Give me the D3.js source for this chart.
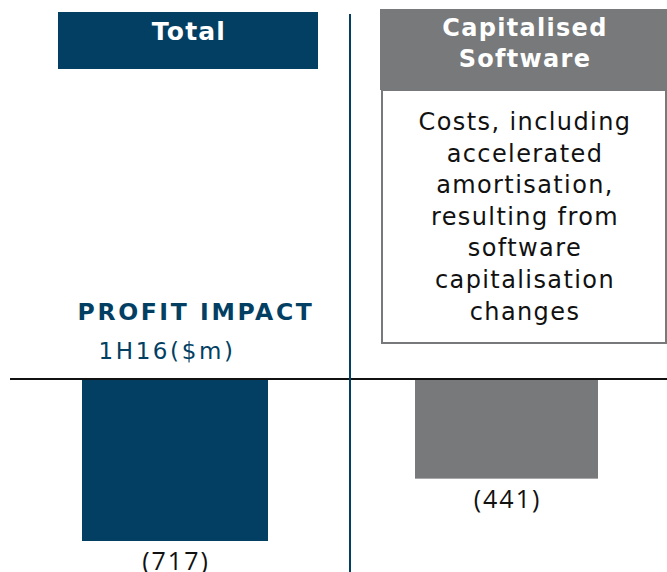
<!DOCTYPE html>
<html><head><meta charset="utf-8">
<script src="https://cdn.jsdelivr.net/npm/d3@7"></script>
<style>body{margin:0;background:#fff}svg{display:block}</style>
</head><body>
<script>
const categories = ["Total", "Capitalised Software"];
const values = [-717, -441];
const valueLabels = ["(717)", "(441)"];
const headerLines = [["Total"], ["Capitalised", "Software"]];
const descriptionLines = ["Costs, including", "accelerated", "amortisation,", "resulting from", "software", "capitalisation", "changes"];
const titleText = "PROFIT IMPACT";
const unitText = "1H16($m)";

const W = 667, H = 572;
const navy = "#023F63", grey = "#78797B";
const svg = d3.select("body").append("svg").attr("width", W).attr("height", H);

const barX = {"Total": [82, 268], "Capitalised Software": [415, 598]};
const y = d3.scaleLinear().domain([0, -717]).range([379, 541]);

// Header boxes
svg.append("rect").attr("x", 58).attr("y", 12).attr("width", 260).attr("height", 57).attr("fill", navy);
svg.append("text").attr("x", 189).attr("y", 40).attr("text-anchor", "middle")
  .attr("font-family", "DejaVu Sans").attr("font-weight", "bold").attr("font-size", 25)
  .attr("letter-spacing", 1.2).attr("fill", "#fff").text(headerLines[0][0]);

svg.append("rect").attr("x", 380).attr("y", 9).attr("width", 287).attr("height", 81).attr("fill", grey);
headerLines[1].forEach((l, i) => {
  svg.append("text").attr("x", 525).attr("y", 36 + i * 31).attr("text-anchor", "middle")
    .attr("font-family", "DejaVu Sans").attr("font-weight", "bold").attr("font-size", 24)
    .attr("letter-spacing", 1.3).attr("fill", "#fff").text(l);
});

// Description box
svg.append("rect").attr("x", 382).attr("y", 90).attr("width", 284).attr("height", 253)
  .attr("fill", "#fff").attr("stroke", grey).attr("stroke-width", 2);
descriptionLines.forEach((l, i) => {
  svg.append("text").attr("x", 525).attr("y", 130 + i * 31.6).attr("text-anchor", "middle")
    .attr("font-family", "DejaVu Sans").attr("font-size", 24).attr("letter-spacing", 1.4)
    .attr("fill", "#111").text(l);
});

// Title
svg.append("text").attr("x", 196).attr("y", 320).attr("text-anchor", "middle")
  .attr("font-family", "DejaVu Sans").attr("font-weight", "bold").attr("font-size", 23.5)
  .attr("letter-spacing", 2.6).attr("fill", navy).text(titleText);
svg.append("text").attr("x", 167).attr("y", 359).attr("text-anchor", "middle")
  .attr("font-family", "DejaVu Sans").attr("font-size", 23).attr("letter-spacing", 2.6)
  .attr("fill", navy).text(unitText);

// Bars
const colors = [navy, grey];
categories.forEach((c, i) => {
  const [x0, x1] = barX[c];
  svg.append("rect").attr("x", x0).attr("y", y(0)).attr("width", x1 - x0)
    .attr("height", y(values[i]) - y(0)).attr("fill", colors[i]);
  svg.append("text").attr("x", (x0 + x1) / 2 + 1).attr("y", y(values[i]) + 29)
    .attr("text-anchor", "middle").attr("font-family", "Open Sans").attr("font-size", 25)
    .attr("letter-spacing", 2).attr("fill", "#111").text(valueLabels[i]);
});

// Zero line
svg.append("line").attr("x1", 10).attr("x2", W).attr("y1", y(0)).attr("y2", y(0))
  .attr("stroke", "#111").attr("stroke-width", 2);
// Vertical divider
svg.append("line").attr("x1", 350).attr("x2", 350).attr("y1", 14).attr("y2", H)
  .attr("stroke", navy).attr("stroke-width", 2);
</script>
</body></html>
